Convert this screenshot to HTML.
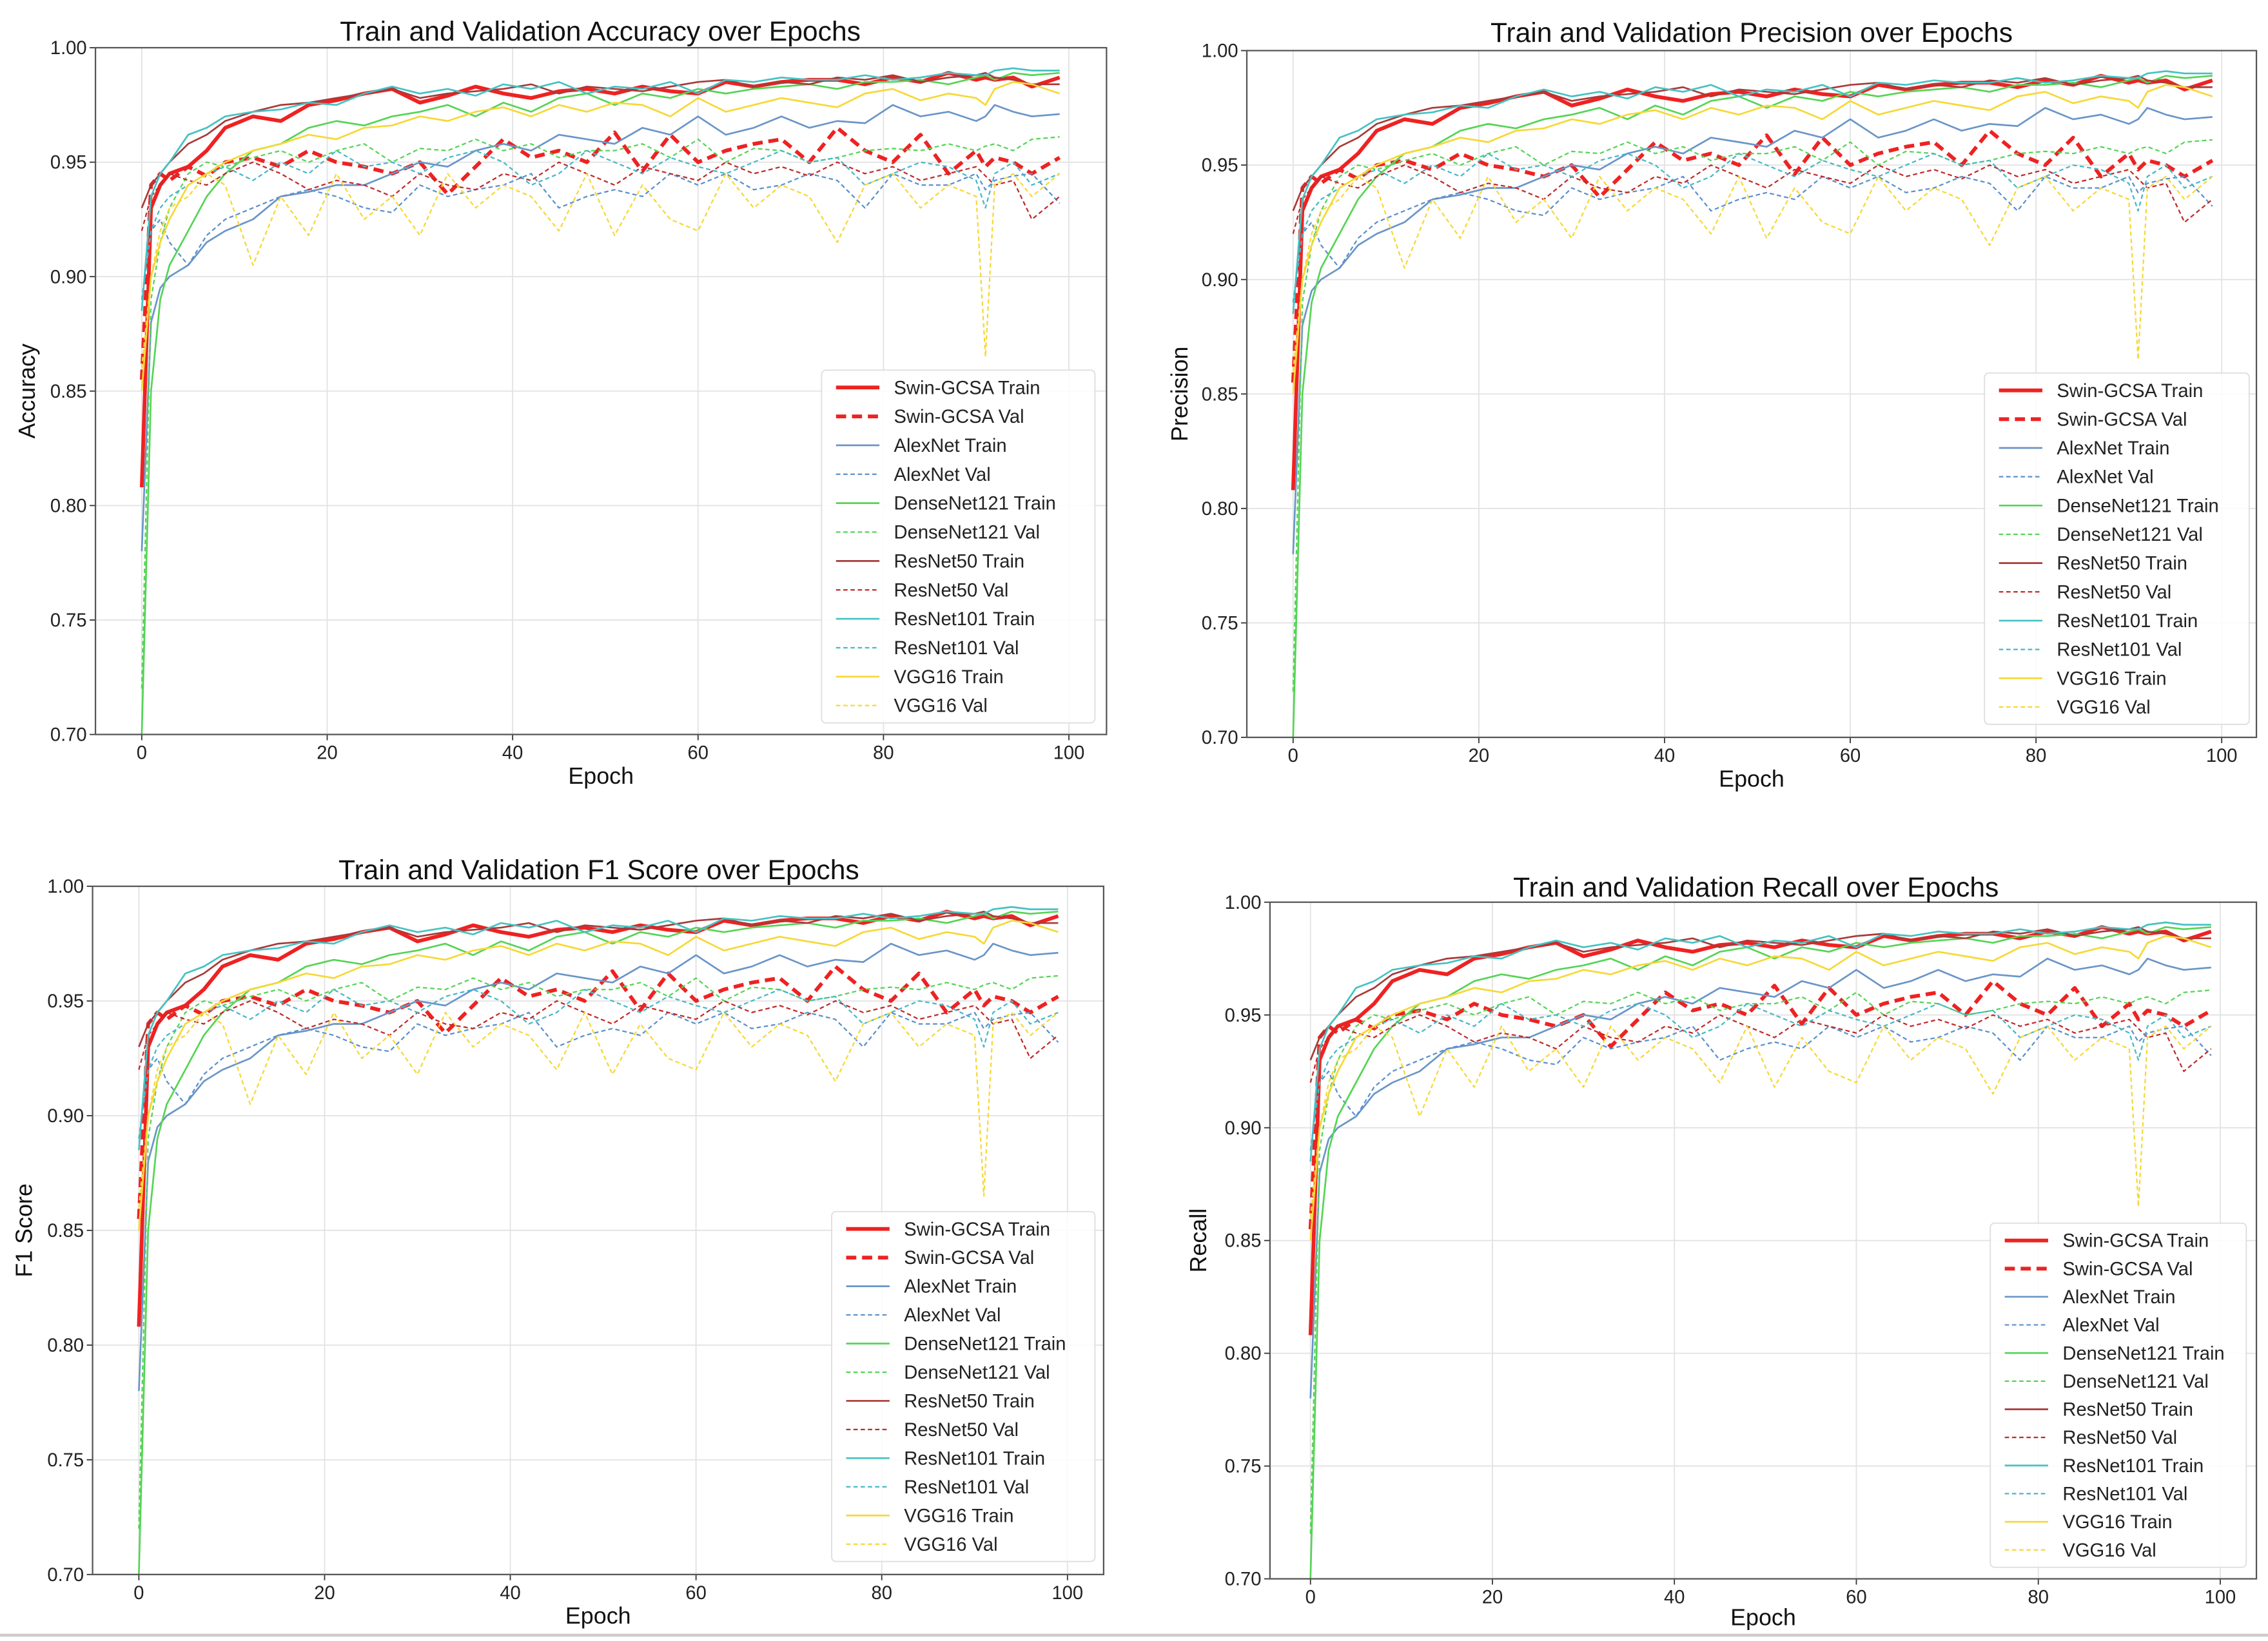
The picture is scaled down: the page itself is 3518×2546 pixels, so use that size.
<!DOCTYPE html>
<html><head><meta charset="utf-8"><style>
html,body{margin:0;padding:0;background:#fff;}
svg{display:block;font-family:"Liberation Sans","DejaVu Sans",sans-serif;}
</style></head><body>
<svg id="fig" width="3518" height="2546" viewBox="0 0 1568 1135" preserveAspectRatio="none" xmlns="http://www.w3.org/2000/svg">
<rect x="0" y="0" width="1568" height="1135" fill="#fff"/>
<line x1="0" y1="1131" x2="1568" y2="1131" stroke="#ccc" stroke-width="2"/>
</svg>
<script>
const epochs=[0,1,2,3,5,7,9,12,15,18,21,24,27,30,33,36,39,42,45,48,51,54,57,60,63,66,69,72,75,78,81,84,87,90,91,92,94,96,99];
const swinT=[808,930,940,945,948,955,965,970,968,975,977,980,982,976,979,983,980,978,981,982,980,983,981,980,985,983,985,986,986,984,987,985,989,986,987,986,987,983,987];
const swinV=[855,940,945,942,948,944,950,952,948,955,950,948,945,950,936,948,960,952,955,950,963,946,962,950,955,958,960,950,965,955,950,962,945,955,948,952,950,945,952];
const alexT=[780,880,895,900,905,915,920,925,935,937,940,940,945,950,948,955,958,955,962,960,958,965,962,970,962,965,970,965,968,967,975,970,972,968,970,975,972,970,971];
const alexV=[890,920,925,915,905,918,925,930,935,938,935,930,928,940,935,938,940,945,930,935,938,935,945,940,945,938,940,945,942,930,945,940,940,945,938,942,944,945,932];
const denseT=[700,850,890,905,920,935,945,955,958,965,968,966,970,972,975,970,976,972,978,980,975,980,978,982,980,982,983,984,982,985,985,986,984,987,988,986,989,988,989];
const denseV=[720,890,915,930,945,950,948,952,955,950,955,958,950,956,955,960,955,958,952,955,955,958,952,960,950,956,955,950,952,955,956,955,958,955,957,958,955,960,961];
const r50T=[930,940,945,950,958,962,968,972,975,976,978,980,982,978,980,981,982,984,980,983,982,981,983,985,986,983,985,984,987,986,988,985,987,988,989,987,986,984,984];
const r50V=[920,935,940,945,942,940,945,950,945,938,942,940,935,945,940,938,945,942,950,945,940,948,945,942,950,945,948,944,950,945,948,942,945,948,944,940,942,925,935];
const r101T=[885,935,945,950,962,965,970,972,973,976,975,980,983,980,982,979,984,982,985,980,983,982,985,980,986,985,987,986,986,988,986,987,989,988,988,990,991,990,990];
const r101V=[890,920,930,935,940,945,948,942,950,945,955,948,950,945,952,955,950,940,945,955,950,945,952,948,945,950,955,950,952,940,945,950,948,942,930,945,950,940,945];
const vggT=[850,900,915,925,940,945,950,955,958,962,960,965,966,970,968,972,974,970,975,972,976,975,970,978,972,975,978,976,974,980,982,977,980,978,975,982,985,984,980];
const vggV=[860,900,920,930,935,945,940,905,935,918,945,925,935,918,945,930,940,935,920,945,918,940,925,920,945,930,940,935,915,940,945,930,940,935,865,940,945,935,945];
const seriesNames=["Swin-GCSA Train","Swin-GCSA Val","AlexNet Train","AlexNet Val","DenseNet121 Train","DenseNet121 Val","ResNet50 Train","ResNet50 Val","ResNet101 Train","ResNet101 Val","VGG16 Train","VGG16 Val"];
const seriesData=[swinT,swinV,alexT,alexV,denseT,denseV,r50T,r50V,r101T,r101V,vggT,vggV];
const xTicks=[0,20,40,60,80,100];
const yTicks=[0.70,0.75,0.80,0.85,0.90,0.95,1.00];
const panelTitles=["Train and Validation Accuracy over Epochs","Train and Validation Precision over Epochs","Train and Validation F1 Score over Epochs","Train and Validation Recall over Epochs"];
const panelYLabels=["Accuracy","Precision","F1 Score","Recall"];

const colors=["#ee2222","#ee2222","#6a95c8","#5a90cc","#55d455","#55d455","#a83a3a","#c02a2a","#45c2c2","#45b8c8","#f6d835","#f6d835"];
const widths=[2.6,2.6,1.2,1,1.2,1,1.2,1,1.2,1,1.2,1];
const dashes=[null,"7,4",null,"3,2",null,"3,2",null,"3,2",null,"3,2",null,"3,2"];
const panels=[
 {L:66,R:765,T:33,B:508,x0:98,x1:739,tx:415,ty:21,yl:18,xl:536,lg:[568,256,757,500]},
 {L:862,R:1560,T:35,B:510,x0:894,x1:1536,tx:1211,ty:22,yl:815,xl:538,lg:[1372,258,1555,501]},
 {L:64,R:763,T:613,B:1089,x0:96,x1:738,tx:414,ty:601,yl:16,xl:1117,lg:[575,838,757,1080]},
 {L:878,R:1560,T:624,B:1092,x0:906,x1:1535,tx:1214,ty:613,yl:828,xl:1118,lg:[1376,846,1553,1084]}
];
const svg=document.getElementById('fig');
const NS="http://www.w3.org/2000/svg";
function mk(tag,attrs,parent){const e=document.createElementNS(NS,tag);for(const k in attrs)e.setAttribute(k,attrs[k]);(parent||svg).appendChild(e);return e;}
panels.forEach((p,pi)=>{
 const g=mk('g',{});
 
 
 const sx=v=>p.x0+(v/100)*(p.x1-p.x0);
 const sy=v=>p.B-(v-0.70)/0.30*(p.B-p.T);
 xTicks.forEach(t=>{
  const l=mk('line',{x1:sx(t),x2:sx(t),y1:p.T,y2:p.B,stroke:"#e2e2e2","stroke-width":0.8},g);
  
  
  mk('line',{x1:sx(t),x2:sx(t),y1:p.B,y2:p.B+4,stroke:"#333","stroke-width":0.8},g);
  const tx=mk('text',{x:sx(t),y:p.B+17,"font-size":13,"text-anchor":"middle",fill:"#222"},g);
  tx.textContent=t;
  
  
 });
 yTicks.forEach(t=>{
  const l=mk('line',{x1:p.L,x2:p.R,y1:sy(t),y2:sy(t),stroke:"#e2e2e2","stroke-width":0.8},g);
  
  
  mk('line',{x1:p.L-4,x2:p.L,y1:sy(t),y2:sy(t),stroke:"#333","stroke-width":0.8},g);
  const tx=mk('text',{x:p.L-6,y:sy(t)+4.5,"font-size":13,"text-anchor":"end",fill:"#222"},g);
  tx.textContent=t.toFixed(2);
  
  
 });
 const clipId='clip'+pi;
 const cp=mk('clipPath',{id:clipId},g);
 mk('rect',{x:p.L,y:p.T,width:p.R-p.L,height:p.B-p.T},cp);
 const sg=mk('g',{"clip-path":"url(#"+clipId+")"},g);
 seriesData.forEach((arr,si)=>{
  const d=arr.map((v,i)=>(i?'L':'M')+sx(epochs[i]).toFixed(1)+','+sy(v/1000).toFixed(1)).join(' ');
  const a={d:d,fill:"none",stroke:colors[si],"stroke-width":widths[si],"stroke-linejoin":"round"};
  if(dashes[si])a["stroke-dasharray"]=dashes[si];
  const path=mk('path',a,sg);
  
  
 });
 const frame=mk('rect',{x:p.L,y:p.T,width:p.R-p.L,height:p.B-p.T,fill:"none",stroke:"#555","stroke-width":1},g);
 
 
 const title=mk('text',{x:p.tx,y:p.ty+7,"font-size":19,"text-anchor":"middle",fill:"#111"},g);
 title.textContent=panelTitles[pi];
 
 
 const xl=mk('text',{x:(p.L+p.R)/2,y:p.xl+6,"font-size":16,"text-anchor":"middle",fill:"#111"},g);
 xl.textContent="Epoch";
 
 
 const yc=(p.T+p.B)/2;
 const yl=mk('text',{x:p.yl+6,y:yc,"font-size":16,"text-anchor":"middle",fill:"#111",transform:"rotate(-90 "+(p.yl+6)+" "+yc+")"},g);
 yl.textContent=panelYLabels[pi];
 
 
 const [lx0,ly0,lx1,ly1]=p.lg;
 const lg=mk('g',{},g);
 
 
 mk('rect',{x:lx0,y:ly0,width:lx1-lx0,height:ly1-ly0,fill:"#fff","fill-opacity":0.85,stroke:"#ddd","stroke-width":0.8,rx:3},lg);
 const step=(ly1-ly0-24)/11;
 seriesNames.forEach((n,si)=>{
  const yy=ly0+12+si*step;
  const ent=mk('g',{},lg);
  
  
  const a={x1:lx0+10,x2:lx0+40,y1:yy,y2:yy,stroke:colors[si],"stroke-width":widths[si]};
  if(dashes[si])a["stroke-dasharray"]=dashes[si];
  mk('line',a,ent);
  const t=mk('text',{x:lx0+50,y:yy+4.5,"font-size":13,fill:"#222"},ent);
  t.textContent=n;
 });
});
</script>
</body></html>
